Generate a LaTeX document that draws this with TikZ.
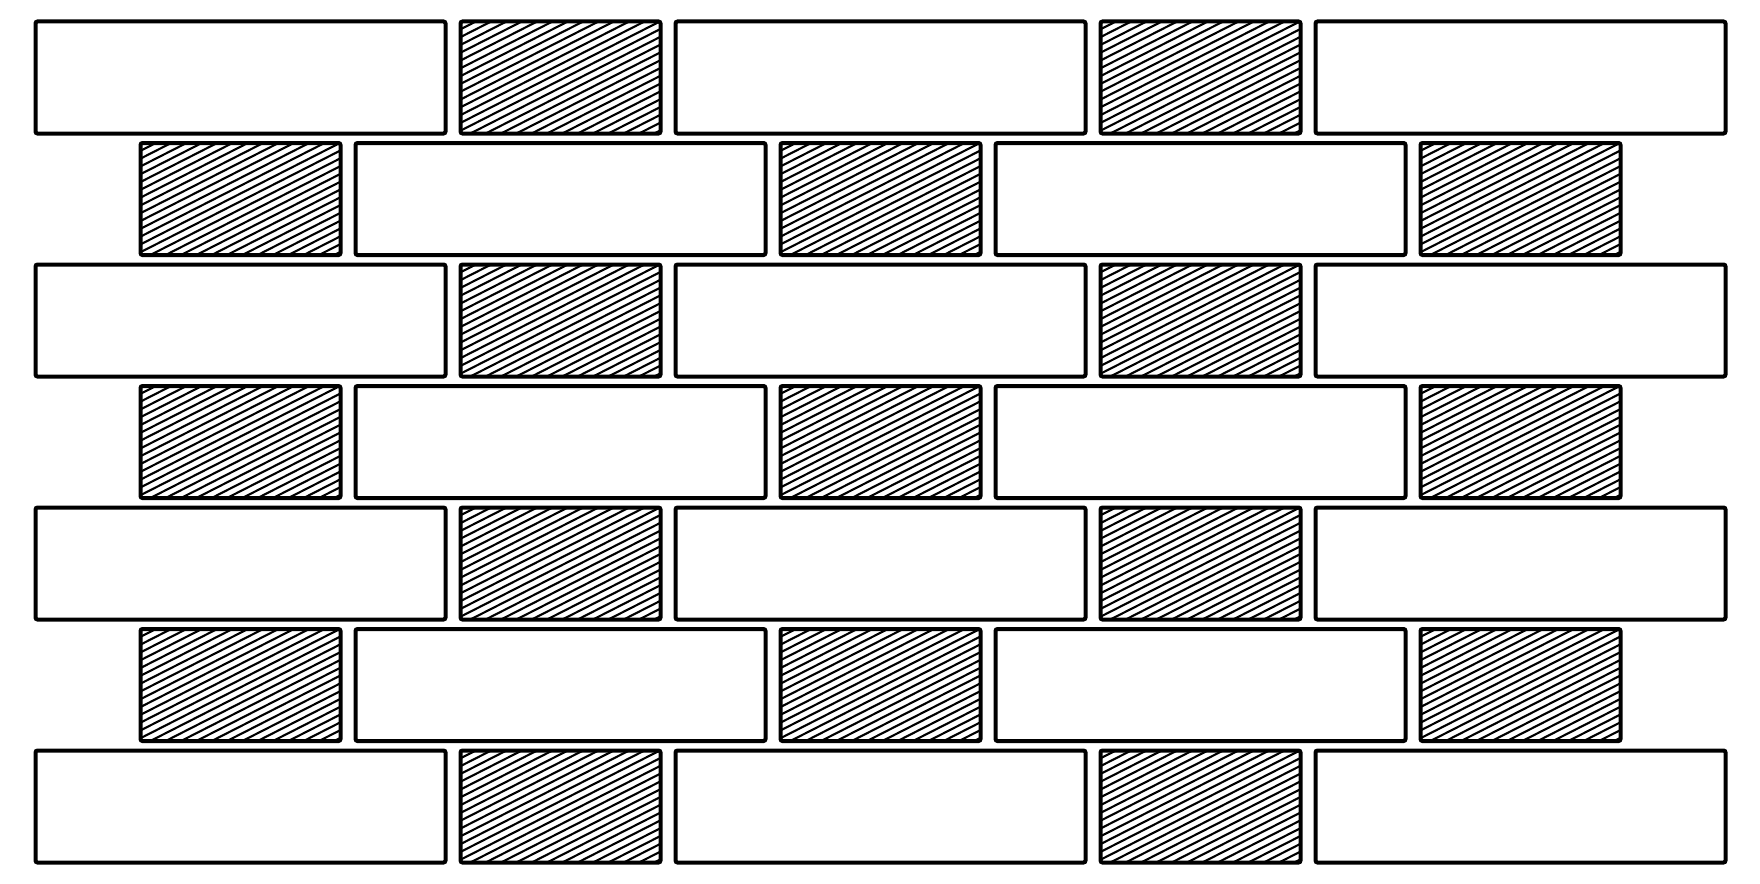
\documentclass[tikz,border=0pt]{standalone}
\begin{document}
\begin{tikzpicture}[x=1pt,y=-1pt,
  brick/.style={draw=black,line width=4pt,rounded corners=2pt,inner sep=0pt,
    minimum height=112pt,fill=white},
  stretcher/.style={brick,minimum width=410pt},
  header/.style={brick,minimum width=200pt,
    path picture={\draw[black,line width=2.1pt]
      foreach \c in {0,7.8,...,236}
      {([yshift=-\c pt]path picture bounding box.north west) -- ++(230,-117)};}}]
\fill[white] (0,0) rectangle (1760,883);
\useasboundingbox (0,0) rectangle (1760,883);
\foreach \r in {0,...,6}{
  \pgfmathsetmacro{\yy}{77.5+121.5*\r}
  \pgfmathtruncatemacro{\odd}{mod(\r,2)}
  \foreach \i/\xx in {0/240.5,1/560.5,2/880.5,3/1200.5,4/1520.5}{
    \pgfmathtruncatemacro{\kind}{mod(\i+\odd,2)}
    \ifnum\kind=0
      \node[stretcher] (b-\r-\i) at (\xx,\yy) {};
    \else
      \node[header] (b-\r-\i) at (\xx,\yy) {};
    \fi
  }
}
\end{tikzpicture}
\end{document}
